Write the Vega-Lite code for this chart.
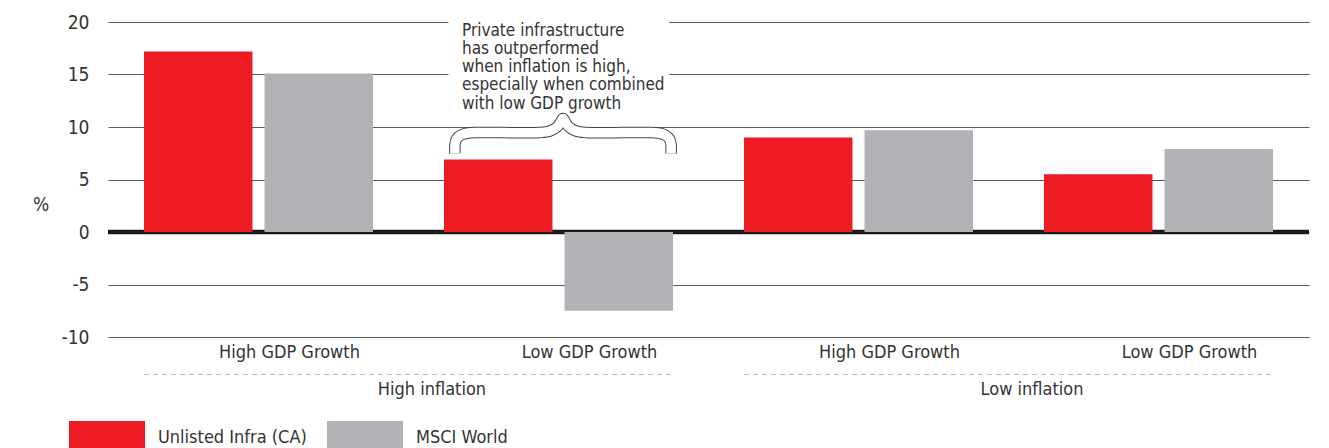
{
  "$schema": "https://vega.github.io/schema/vega-lite/v6.json",
  "width": 1201,
  "height": 315,
  "autosize": {"type": "none"},
  "padding": {"left": 108, "top": 22, "right": 20, "bottom": 111},
  "background": "white",
  "config": {
    "view": {"stroke": null},
    "font": "DejaVu Sans Condensed, Roboto",
    "text": {"font": "DejaVu Sans Condensed, Roboto", "color": "#333333"}
  },
  "datasets": {
    "bars": [
      {"scenario": "High inflation · High GDP Growth", "series": "Unlisted Infra (CA)", "value": 17.2},
      {"scenario": "High inflation · High GDP Growth", "series": "MSCI World", "value": 15.1},
      {"scenario": "High inflation · Low GDP Growth", "series": "Unlisted Infra (CA)", "value": 6.9},
      {"scenario": "High inflation · Low GDP Growth", "series": "MSCI World", "value": -7.5},
      {"scenario": "Low inflation · High GDP Growth", "series": "Unlisted Infra (CA)", "value": 9.0},
      {"scenario": "Low inflation · High GDP Growth", "series": "MSCI World", "value": 9.7},
      {"scenario": "Low inflation · Low GDP Growth", "series": "Unlisted Infra (CA)", "value": 5.5},
      {"scenario": "Low inflation · Low GDP Growth", "series": "MSCI World", "value": 7.9}
    ],
    "regimes": [
      {"regime": "High inflation", "start": "High inflation · High GDP Growth", "end": "High inflation · Low GDP Growth"},
      {"regime": "Low inflation", "start": "Low inflation · High GDP Growth", "end": "Low inflation · Low GDP Growth"}
    ],
    "brace": [
      {"i": 0, "bx": 1.1557, "by": 7.48},
      {"i": 1, "bx": 1.1557, "by": 8.33},
      {"i": 2, "bx": 1.1607, "by": 8.86},
      {"i": 3, "bx": 1.1757, "by": 9.24},
      {"i": 4, "bx": 1.1990, "by": 9.43},
      {"i": 5, "bx": 1.2323, "by": 9.48},
      {"i": 6, "bx": 1.4388, "by": 9.48},
      {"i": 7, "bx": 1.4721, "by": 9.62},
      {"i": 8, "bx": 1.4954, "by": 10.0},
      {"i": 9, "bx": 1.5088, "by": 10.52},
      {"i": 10, "bx": 1.5154, "by": 10.81},
      {"i": 11, "bx": 1.5221, "by": 10.52},
      {"i": 12, "bx": 1.5354, "by": 10.0},
      {"i": 13, "bx": 1.5587, "by": 9.62},
      {"i": 14, "bx": 1.5920, "by": 9.48},
      {"i": 15, "bx": 1.7985, "by": 9.48},
      {"i": 16, "bx": 1.8318, "by": 9.43},
      {"i": 17, "bx": 1.8551, "by": 9.24},
      {"i": 18, "bx": 1.8701, "by": 8.86},
      {"i": 19, "bx": 1.8751, "by": 8.33},
      {"i": 20, "bx": 1.8751, "by": 7.48}
    ]
  },
  "layer": [
    {
      "layer": [
        {
          "data": {"values": [{}]},
          "mark": {"type": "rule", "color": "#1a1a1a", "strokeWidth": 4.5},
          "encoding": {"y": {"datum": 0, "type": "quantitative", "title": "%"}}
        },
        {
          "data": {"name": "bars"},
          "mark": {"type": "bar"},
          "encoding": {
            "x": {
              "field": "scenario",
              "type": "nominal",
              "sort": null,
              "scale": {
                "domain": ["High inflation · High GDP Growth", "High inflation · Low GDP Growth", "Low inflation · High GDP Growth", "Low inflation · Low GDP Growth"],
                "paddingInner": 0.2367,
                "paddingOuter": 0.12
              },
              "axis": {
                "title": null,
                "domain": false,
                "ticks": false,
                "tickSize": 0,
                "labelAngle": 0,
                "labelFontSize": 18,
                "labelColor": "#333333",
                "labelPadding": 6,
                "labelOffset": 31,
                "labelExpr": "split(datum.label, ' · ')[1]"
              }
            },
            "xOffset": {
              "field": "series",
              "type": "nominal",
              "sort": ["Unlisted Infra (CA)", "MSCI World"],
              "scale": {"paddingInner": 0.1, "paddingOuter": 0}
            },
            "y": {
              "field": "value",
              "type": "quantitative",
              "title": "%",
              "scale": {"domain": [-10, 20], "nice": false, "zero": false},
              "axis": {
                "values": [-10, -5, 0, 5, 10, 15, 20],
                "labelExpr": "'' + datum.value",
                "domain": false,
                "ticks": false,
                "tickSize": 0,
                "grid": true,
                "gridColor": "#5a5a5a",
                "gridWidth": 1,
                "labelFontSize": 19,
                "labelColor": "#333333",
                "labelPadding": 19,
                "title": "%",
                "titleAngle": 0,
                "titleX": -67.5,
                "titleY": 182,
                "titleAlign": "center",
                "titleBaseline": "middle",
                "titleFontSize": 19,
                "titleFontWeight": "normal",
                "titleColor": "#333333"
              }
            },
            "color": {
              "field": "series",
              "type": "nominal",
              "sort": ["Unlisted Infra (CA)", "MSCI World"],
              "scale": {"domain": ["Unlisted Infra (CA)", "MSCI World"], "range": ["#ED1C24", "#B1B2B5"]},
              "legend": {
                "title": null,
                "orient": "none",
                "direction": "horizontal",
                "legendX": -39,
                "legendY": 378,
                "padding": 0,
                "symbolType": "M-1,-0.447H1V0.447H-1Z",
                "symbolSize": 5776,
                "symbolStrokeWidth": 0,
                "symbolOpacity": 1,
                "labelFontSize": 18,
                "labelColor": "#333333",
                "labelOffset": 13,
                "columnPadding": 20,
                "labelLimit": 400
              }
            }
          }
        },
        {
          "data": {"name": "regimes"},
          "mark": {"type": "rule", "color": "#bbbbbb", "strokeWidth": 1, "strokeDash": [5, 4]},
          "encoding": {
            "x": {"field": "start", "type": "nominal", "bandPosition": 0},
            "x2": {"field": "end", "bandPosition": 1},
            "y": {"datum": -13.57, "type": "quantitative"}
          }
        },
        {
          "data": {"name": "regimes"},
          "mark": {"type": "text", "fontSize": 18, "align": "center", "baseline": "middle", "dx": 59, "color": "#333333"},
          "encoding": {
            "x": {"field": "start", "type": "nominal", "bandPosition": 1},
            "y": {"datum": -15.0, "type": "quantitative"},
            "text": {"field": "regime"}
          }
        }
      ]
    },
    {
      "layer": [
        {
          "data": {"values": [{}]},
          "mark": {"type": "rect", "color": "white"},
          "encoding": {
            "x": {"datum": 1.134, "type": "quantitative", "scale": {"domain": [0, 4], "nice": false, "zero": false}, "axis": null},
            "x2": {"datum": 1.869},
            "y": {"datum": 20.4, "type": "quantitative"},
            "y2": {"datum": 11.8}
          }
        },
        {
          "data": {"name": "brace"},
          "mark": {"type": "line", "color": "#444444", "strokeWidth": 11.5, "interpolate": "catmull-rom", "strokeJoin": "round"},
          "encoding": {
            "x": {"field": "bx", "type": "quantitative"},
            "y": {"field": "by", "type": "quantitative"},
            "order": {"field": "i"}
          }
        },
        {
          "data": {"name": "brace"},
          "mark": {"type": "line", "color": "white", "strokeWidth": 9.5, "interpolate": "catmull-rom", "strokeJoin": "round"},
          "encoding": {
            "x": {"field": "bx", "type": "quantitative"},
            "y": {"field": "by", "type": "quantitative"},
            "order": {"field": "i"}
          }
        },
        {
          "data": {"values": [{}]},
          "mark": {"type": "text", "fontSize": 17, "align": "left", "baseline": "top", "lineHeight": 18.3, "color": "#333333"},
          "encoding": {
            "x": {"datum": 1.179, "type": "quantitative"},
            "y": {"datum": 19.95, "type": "quantitative"},
            "text": {"value": ["Private infrastructure", "has outperformed", "when inflation is high,", "especially when combined", "with low GDP growth"]}
          }
        }
      ]
    }
  ],
  "resolve": {"scale": {"x": "independent"}}
}
